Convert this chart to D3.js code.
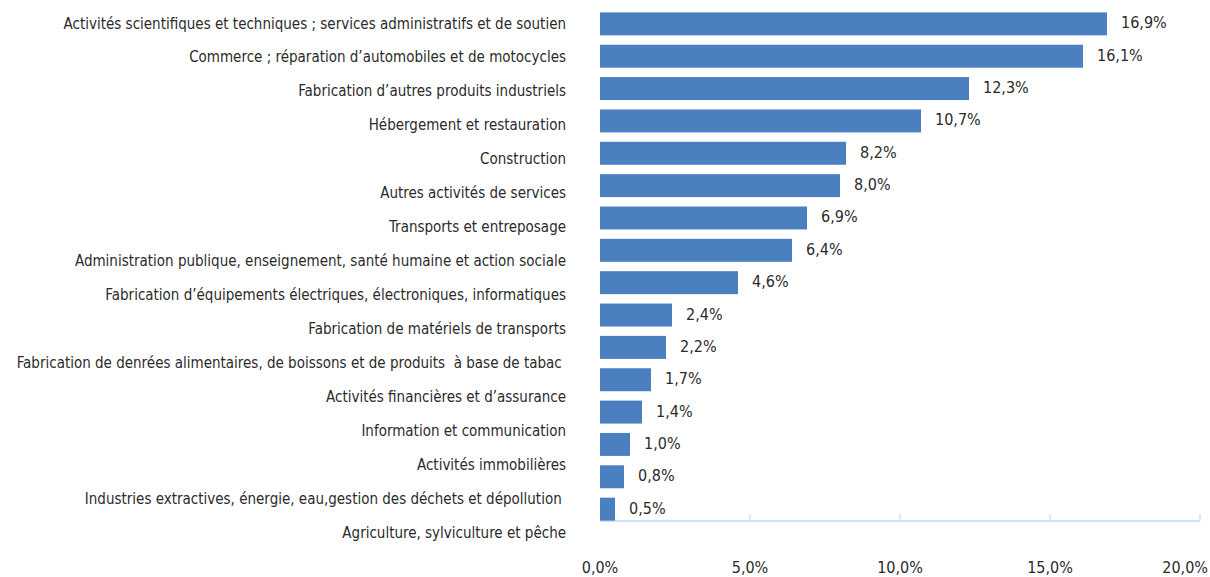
<!DOCTYPE html>
<html>
<head>
<meta charset="utf-8">
<script src="https://cdn.jsdelivr.net/npm/d3@7"></script>
<style>
  body { margin: 0; background: #fff; }
  text { font-family: "DejaVu Sans Condensed", "DejaVu Sans", sans-serif; fill: #2b2b2b; }
  .cat { white-space: pre; }
</style>
</head>
<body>
<svg id="chart"></svg>
<script>
const width = 1210;
const height = 577;

const categories = [
  "Activités scientifiques et techniques ; services administratifs et de soutien",
  "Commerce ; réparation d’automobiles et de motocycles",
  "Fabrication d’autres produits industriels",
  "Hébergement et restauration",
  "Construction",
  "Autres activités de services",
  "Transports et entreposage",
  "Administration publique, enseignement, santé humaine et action sociale",
  "Fabrication d’équipements électriques, électroniques, informatiques",
  "Fabrication de matériels de transports",
  "Fabrication de denrées alimentaires, de boissons et de produits  à base de tabac ",
  "Activités financières et d’assurance",
  "Information et communication",
  "Activités immobilières",
  "Industries extractives, énergie, eau,gestion des déchets et dépollution ",
  "Agriculture, sylviculture et pêche"
];
const values = [16.9, 16.1, 12.3, 10.7, 8.2, 8.0, 6.9, 6.4, 4.6, 2.4, 2.2, 1.7, 1.4, 1.0, 0.8, 0.5];
const xTicks = [0, 5, 10, 15, 20];

const data = categories.map((c, i) => ({ cat: c, value: values[i] }));

const fr = d3.formatLocale({ decimal: ",", thousands: " ", grouping: [3], currency: ["", " €"] });
const fmt = fr.format(".1f");

const svg = d3.select("#chart")
  .attr("width", width)
  .attr("height", height);

const x = d3.scaleLinear()
  .domain([0, 20])
  .range([600, 1200]);

// bars and labels don't share the same spacing in the original
const yBar = d3.scaleBand()
  .domain(categories)
  .range([3, 530])
  .padding(0.29);

const yLabel = d3.scalePoint()
  .domain(categories)
  .range([24, 533]);

const axisY = 521;

// axe horizontal
svg.append("line")
  .attr("x1", x(0)).attr("x2", x(20))
  .attr("y1", axisY).attr("y2", axisY)
  .attr("stroke", "#cfe2f3")
  .attr("stroke-width", 2);

svg.selectAll(".tick-mark")
  .data(xTicks.slice(1))
  .join("line")
  .attr("class", "tick-mark")
  .attr("x1", d => x(d)).attr("x2", d => x(d))
  .attr("y1", axisY - 7).attr("y2", axisY)
  .attr("stroke", "#cfe2f3")
  .attr("stroke-width", 1.5);

// last label is pulled in so it stays inside the frame
svg.selectAll(".tick-label")
  .data(xTicks)
  .join("text")
  .attr("class", "tick-label")
  .attr("x", d => d === 20 ? width - 2 : x(d))
  .attr("y", 568)
  .attr("text-anchor", d => d === 20 ? "end" : "middle")
  .attr("dominant-baseline", "middle")
  .style("font-size", "16px")
  .text(d => fmt(d) + "%");

// barres
svg.selectAll(".bar")
  .data(data)
  .join("rect")
  .attr("class", "bar")
  .attr("x", x(0))
  .attr("y", d => yBar(d.cat))
  .attr("width", d => x(d.value) - x(0))
  .attr("height", yBar.bandwidth())
  .attr("fill", "#4a7fc0");

// valeurs
svg.selectAll(".bar-value")
  .data(data)
  .join("text")
  .attr("class", "bar-value")
  .attr("x", d => x(d.value) + 14)
  .attr("y", d => yBar(d.cat) + yBar.bandwidth() / 2)
  .attr("dominant-baseline", "middle")
  .style("font-size", "16px")
  .text(d => fmt(d.value) + "%");

// libellés
svg.selectAll(".cat")
  .data(categories)
  .join("text")
  .attr("class", "cat")
  .attr("x", 566)
  .attr("y", d => yLabel(d))
  .attr("text-anchor", "end")
  .attr("dominant-baseline", "middle")
  .style("font-size", "15px")
  .text(d => d);
</script>
</body>
</html>
